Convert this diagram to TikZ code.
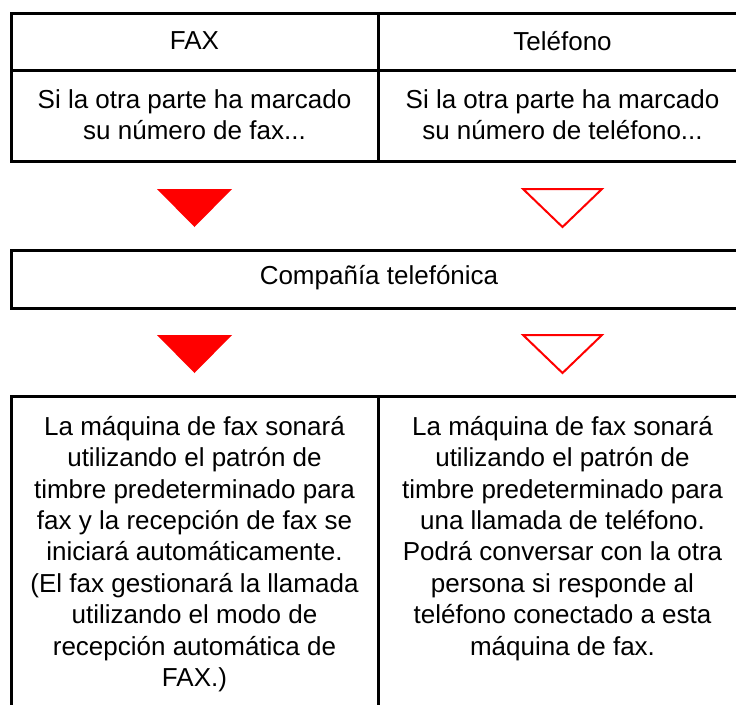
\documentclass[tikz,border=0pt]{standalone}
\usepackage{fontspec}
\setmainfont{Liberation Sans}
\begin{document}
\begin{tikzpicture}[x=1pt,y=-1pt,
  cell/.style={draw=black,line width=3pt},
  txt/.style={align=center,inner sep=0pt,font=\fontsize{26}{31.4}\selectfont},
  fullarrow/.style={fill=red,draw=none},
  openarrow/.style={draw=red,line width=2pt,fill=white,line join=miter}]
\useasboundingbox (0,0) rectangle (736,704);
\clip (0,0) rectangle (736,704);
% top table
\draw[cell] (11,13) rectangle (378,70);
\draw[cell] (378,13) rectangle (747,70);
\draw[cell] (11,70) rectangle (378,161);
\draw[cell] (378,70) rectangle (747,161);
\node[txt] (faxhead) at (194.5,41) {FAX};
\node[txt] (telhead) at (562.5,41) {Teléfono};
\node[txt] (faxif) at (194.5,115) {Si la otra parte ha marcado\\su número de fax...};
\node[txt] (telif) at (562.5,115) {Si la otra parte ha marcado\\su número de teléfono...};
% arrows 1
\fill[fullarrow] (157,189) -- (232,189) -- (194.5,227) -- cycle;
\draw[openarrow] (523,189) -- (602,189) -- (562.5,227) -- cycle;
% company
\draw[cell] (11,250) rectangle (747,308);
\node[txt] (company) at (379,277.5) {Compañía telefónica};
% arrows 2
\fill[fullarrow] (157,335) -- (232,335) -- (194.5,373) -- cycle;
\draw[openarrow] (523,335) -- (602,335) -- (562.5,373) -- cycle;
% bottom
\draw[cell] (11,396) rectangle (378,720);
\draw[cell] (378,396) rectangle (747,720);
\node[txt,anchor=north] (faxres) at (194.5,416) {La máquina de fax sonará\\utilizando el patrón de\\timbre predeterminado para\\fax y la recepción de fax se\\iniciará automáticamente.\\(El fax gestionará la llamada\\utilizando el modo de\\recepción automática de\\FAX.)};
\node[txt,anchor=north] (telres) at (562.5,416) {La máquina de fax sonará\\utilizando el patrón de\\timbre predeterminado para\\una llamada de teléfono.\\Podrá conversar con la otra\\persona si responde al\\teléfono conectado a esta\\máquina de fax.};
\end{tikzpicture}
\end{document}
